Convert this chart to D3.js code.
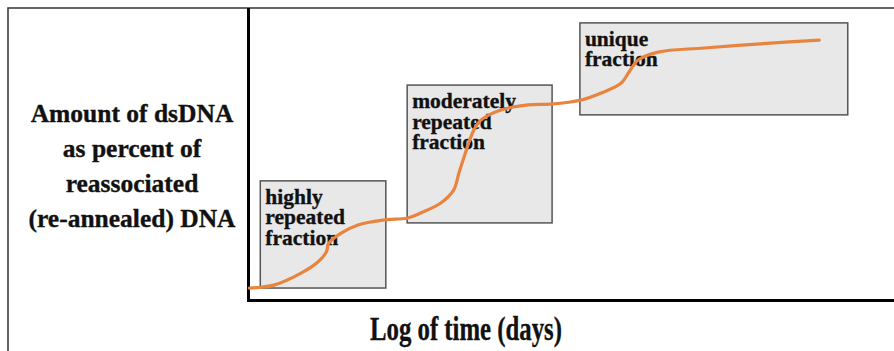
<!DOCTYPE html>
<html lang="en">
<head>
<meta charset="UTF-8">
<title>DNA reassociation curve</title>
<script src="https://cdnjs.cloudflare.com/ajax/libs/d3/7.8.5/d3.min.js"></script>
<style>
  html, body { margin: 0; padding: 0; background: #fff; }
  svg { display: block; }
  text { font-family: "Liberation Serif", "Times New Roman", serif; font-weight: bold; fill: #111; stroke: #111; stroke-width: 0.35; }
</style>
</head>
<body>
<svg width="894" height="351"></svg>
<script>
// reassociation curve, x = log of time (arbitrary units), y = % reassociated
const logTime = [0.02, 0.40, 0.82, 1.08, 1.21, 1.25, 1.44, 1.70, 2.10, 2.47, 2.67, 2.98, 3.18, 3.26, 3.34,
  3.49, 3.60, 3.91, 4.33, 4.68, 5.15, 5.46, 5.77, 5.89, 6.03, 6.34, 7.05, 8.08, 8.83];
const percent = [4.1, 5.1, 9.2, 13.0, 16.4, 19.5, 22.9, 25.7, 27.4, 28.1, 29.8, 33.2, 37.7, 43.5, 49.0,
  58.2, 61.6, 65.1, 66.8, 67.1, 68.5, 70.9, 74.3, 78.1, 82.2, 84.9, 86.3, 88.0, 89.0];

// fraction boxes (same units)
const fractionNames = [['highly', 'repeated', 'fraction'], ['moderately', 'repeated', 'fraction'], ['unique', 'fraction']];
const boxStart = [0.19, 2.46, 5.13];
const boxEnd = [2.13, 4.70, 9.27];
const boxLow = [4.1, 26.4, 63.4];
const boxHigh = [40.8, 73.6, 94.9];

const yLabel = ['Amount of dsDNA', 'as percent of', 'reassociated', '(re-annealed) DNA'];
const xLabel = 'Log of time (days)';

const svg = d3.select('svg');

const x = d3.scaleLinear().domain([0, 10]).range([248, 895]);
const y = d3.scaleLinear().domain([0, 100]).range([300, 8]);

// outer frame
svg.append('rect')
  .attr('x', 8).attr('y', 8)
  .attr('width', 900).attr('height', 360)
  .attr('fill', 'none')
  .attr('stroke', '#333')
  .attr('stroke-width', 1.5);

// boxes
const boxes = svg.selectAll('.box')
  .data(fractionNames)
  .enter()
  .append('g')
  .attr('class', 'box');

boxes.append('rect')
  .attr('x', (d, i) => x(boxStart[i]))
  .attr('y', (d, i) => y(boxHigh[i]))
  .attr('width', (d, i) => x(boxEnd[i]) - x(boxStart[i]))
  .attr('height', (d, i) => y(boxLow[i]) - y(boxHigh[i]))
  .attr('fill', '#e8e8e8')
  .attr('stroke', '#555')
  .attr('stroke-width', 1.5);

boxes.append('text')
  .attr('font-size', 21.5)
  .selectAll('tspan')
  .data((d, i) => d.map((t) => ({ t, i })))
  .enter()
  .append('tspan')
  .attr('x', (d) => x(boxStart[d.i]) + 5)
  .attr('y', (d, j) => y(boxHigh[d.i]) + 23 + j * 20.5)
  .text((d) => d.t);

// axes
svg.append('line')
  .attr('x1', 248.5).attr('x2', 248.5)
  .attr('y1', 8).attr('y2', 302)
  .attr('stroke', '#000').attr('stroke-width', 3);
svg.append('line')
  .attr('x1', 247).attr('x2', 894)
  .attr('y1', 300.5).attr('y2', 300.5)
  .attr('stroke', '#000').attr('stroke-width', 3);

// curve
const line = d3.line()
  .x((d) => x(d[0]))
  .y((d) => y(d[1]))
  .curve(d3.curveCatmullRom.alpha(0.5));

svg.append('path')
  .datum(logTime.map((t, i) => [t, percent[i]]))
  .attr('d', line)
  .attr('fill', 'none')
  .attr('stroke', '#e8843e')
  .attr('stroke-width', 3.2)
  .attr('stroke-linecap', 'round');

// axis titles
svg.append('text')
  .attr('text-anchor', 'middle')
  .attr('font-size', 25.5)
  .selectAll('tspan')
  .data(yLabel)
  .enter()
  .append('tspan')
  .attr('x', 132)
  .attr('y', (d, i) => 122 + i * 35)
  .text((d) => d);

svg.append('text')
  .attr('x', 370)
  .attr('y', 340)
  .attr('font-size', 34)
  .attr('textLength', 192)
  .attr('lengthAdjust', 'spacingAndGlyphs')
  .text(xLabel);
</script>
</body>
</html>
